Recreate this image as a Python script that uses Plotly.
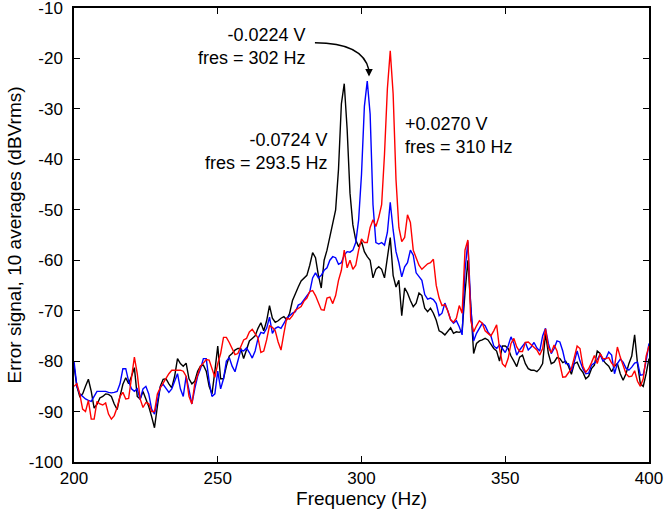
import plotly.graph_objects as go

freq = list(range(200, 401))

black = [
    -81, -85, -87, -86.5, -85, -83.6, -86, -89.3, -88.6, -87.3,
    -87, -86.5, -86.6, -87, -88.5, -89.6, -87, -84.6, -83.3, -84.5,
    -83, -81.3, -87, -87.5, -86, -87.5, -89, -91, -93.2, -89,
    -85, -83.6, -83.5, -84.5, -85.3, -83, -79.5, -80.5, -81, -80.4,
    -83.5, -84.5, -84, -82, -81, -80.8, -82, -85, -86.5, -82,
    -77, -83.5, -83.5, -81, -79, -78.5, -77.8, -77.5, -77.5, -79.5,
    -77.5, -76, -75.5, -75, -73.5, -72.4, -74, -72, -69, -71.5,
    -72.3, -72, -71.5, -71.2, -71.8, -70.5, -68, -66.5, -65.3, -64.1,
    -63.5, -63, -61, -58.5, -59.5, -63, -65.5, -60, -58, -55.5,
    -53, -50, -42, -29, -25, -34, -46.7, -53, -56, -57.3,
    -56.3, -58.3, -59.3, -60, -63.5, -61.8, -61.3, -61.8, -63.5, -59,
    -55.5, -63, -65.3, -64, -71, -65.5, -66.5, -68, -69.2, -68.5,
    -66.5, -67, -69.5, -70.2, -69.5, -70.5, -71.9, -74, -74.3, -74.8,
    -74, -73.4, -74.5, -74.2, -74.3, -74, -66.5, -60, -69, -78.5,
    -76.5, -76, -75.8, -75.5, -75.8, -76.6, -77.5, -78, -80, -77,
    -77, -77.5, -79, -80, -81.1, -79.2, -78.8, -80.5, -81.5, -81.8,
    -81.8, -82.1, -81.5, -80.5, -74.5, -78.5, -80.5, -80.2, -79.3, -79.5,
    -80.3, -80, -81, -82.6, -80.5, -80.2, -81.5, -82.2, -83.5, -83,
    -81.5, -80.8, -78, -78.5, -79.8, -80.5, -81, -82.1, -81, -80.5,
    -82.5, -83.8, -82.5, -80.5, -79, -74.8, -80.5, -84.5, -85, -82.5,
    -79.5,
]

blue = [
    -80, -85, -86.5, -87, -87.5, -87.8, -88, -87, -86, -86,
    -86, -86, -86.2, -86.3, -86.2, -86, -84.5, -81.5, -81.5, -84,
    -85.5, -86, -85.5, -87.6, -85.5, -85, -86.5, -89.5, -90.5, -87.5,
    -85.2, -84.6, -85.3, -86.2, -85.5, -84, -82.5, -85.5, -87, -83,
    -86, -88.5, -85.5, -83, -81.5, -79.5, -79.5, -84, -87, -86.5,
    -82, -85.5, -83.5, -80, -79.3, -81, -82.1, -80, -77.8, -78,
    -77.4, -78.3, -79.4, -78, -75.5, -74.3, -74.5, -73.5, -71.3, -74.5,
    -73.5, -73.2, -73.5, -72.5, -71.5, -71, -70.5, -70.2, -68.9, -68.6,
    -67.8, -66.9, -66.3, -63.5, -62.5, -63.5, -63, -62, -61.5, -60,
    -59.3, -59.5, -60.8, -60.5, -59, -58.3, -58.4, -58, -56.5, -52,
    -43, -29.5, -24.5, -31, -49, -56.5, -56.8, -56.5, -57, -54.5,
    -48.5, -54, -58.3, -60.5, -63.3, -61.3, -60.5, -58, -59, -62.5,
    -63.3, -64, -66.8, -67.7, -67.5, -67.8, -68.6, -71, -70.5, -68.5,
    -70, -71.8, -72.5, -72, -73.2, -74.8, -62, -56.3, -69.2, -76,
    -74.5, -73.5, -72.5, -73, -74.2, -75, -77, -77.5, -76.8, -77.5,
    -78.3, -77, -75.2, -76.5, -78.8, -77.8, -77, -76.3, -77.8, -77.2,
    -76.3, -77.4, -78, -75, -73.5, -76.5, -78.5, -77.5, -76, -76.2,
    -78, -80.5, -80.5, -82, -80.2, -78, -80, -81.5, -82.5, -82.4,
    -80.8, -80.4, -79.7, -78.7, -80, -79.5, -78.2, -78.8, -82.5, -80.5,
    -79.6, -80.2, -81.4, -81.8, -81.2, -80.4, -80.2, -82.8, -82.7, -80,
    -76.5,
]

red = [
    -85, -84.5, -86.5, -89.5, -90, -87.8, -91.5, -91.5, -88, -88.5,
    -88.7, -88.3, -90.5, -91.5, -90.8, -89.2, -87, -86.2, -87.5, -87.4,
    -83.3, -79.2, -82.5, -87.5, -89.2, -88.2, -88.4, -90, -90, -86.5,
    -85.3, -84.3, -83.5, -82.5, -81.8, -81.8, -81.8, -81.8, -82, -83,
    -87, -88.5, -84.5, -82.5, -81, -80.4, -79.7, -79.8, -81.5, -83.2,
    -80.5, -78.5, -75.3, -75.3, -76.3, -77.5, -78.7, -78.5, -77, -75.8,
    -75.5, -74.2, -73.7, -74.7, -75.4, -78.3, -78, -75.8, -73, -73.3,
    -74, -76.2, -77.8, -74.5, -71.5, -71.7, -71, -69.9, -69.5, -69.2,
    -68.1, -67.5, -66.2, -66, -67, -68.6, -69.8, -69.9, -67.5, -67.3,
    -68.6, -67, -64, -62, -58, -61.5, -60, -61.8, -61, -58,
    -55.8, -56.5, -56.5, -53.5, -52, -53.3, -51.5, -49, -39, -26,
    -18.5, -27, -44, -53.5, -56.3, -55.5, -51, -52.5, -58, -59.5,
    -61, -61.8, -61.3, -60.7, -60.5, -59.8, -65, -67.5, -69, -68.8,
    -70, -71.8, -72.3, -71.5, -69, -70.5, -58, -56, -72, -74.2,
    -73, -72, -72.5, -74, -74.5, -75, -74, -72.8, -77.5, -80.5,
    -81.1, -79.5, -76.5, -75.5, -77.2, -78.1, -78.1, -76.3, -76.2, -76.8,
    -77.2, -77.8, -78.8, -77.5, -73.6, -77.3, -78.3, -76.8, -78, -80.8,
    -83.2, -83.1, -82.2, -81.5, -79.3, -77, -77.5, -81, -82.2, -81.5,
    -80.3, -78.9, -80.5, -78.5, -79.5, -79.5, -79.3, -80.4, -81.1, -77.2,
    -79.2, -81, -82.5, -83.1, -83, -81.9, -84, -85, -83.5, -79,
    -77,
]

x_ticks = [200, 250, 300, 350, 400]
y_ticks = list(range(-100, 0, 10))

FONT = "Liberation Sans, Arial, Helvetica, sans-serif"

fig = go.Figure()
fig.add_trace(go.Scatter(x=freq, y=black, mode="lines",
                         line=dict(color="#000000", width=1.4), showlegend=False))
fig.add_trace(go.Scatter(x=freq, y=blue, mode="lines",
                         line=dict(color="#0000ff", width=1.4), showlegend=False))
fig.add_trace(go.Scatter(x=freq, y=red, mode="lines",
                         line=dict(color="#ff0000", width=1.4), showlegend=False))

# curved arrow pointing to the blue peak
fig.add_shape(type="path", xref="x", yref="y",
              path="M 283.8,-16.9 Q 300.5,-16.9 302.6,-22.3",
              line=dict(color="black", width=1.5))
fig.add_annotation(x=302.6, y=-23.6, xref="x", yref="y", text="",
                   showarrow=True, arrowhead=2, arrowsize=1, arrowwidth=1.5,
                   arrowcolor="black", ax=0, ay=-8)

ann_font = dict(family=FONT, size=18, color="black")
fig.add_annotation(x=281.3, y=-17.6, xref="x", yref="y", xanchor="right", yanchor="middle",
                   text="-0.0224 V<br>fres = 302 Hz", showarrow=False, align="right",
                   font=ann_font)
fig.add_annotation(x=289.0, y=-38.4, xref="x", yref="y", xanchor="right", yanchor="middle",
                   text="-0.0724 V<br>fres = 293.5 Hz", showarrow=False, align="right",
                   font=ann_font)
fig.add_annotation(x=314.5, y=-35.2, xref="x", yref="y", xanchor="left", yanchor="middle",
                   text="+0.0270 V<br>fres = 310 Hz", showarrow=False, align="left",
                   font=ann_font)

axis_common = dict(showgrid=False, zeroline=False, showline=True, linecolor="black",
                   linewidth=1.5, mirror="ticks", ticks="inside", ticklen=6,
                   tickwidth=1, tickcolor="black", automargin=False,
                   ticklabeloverflow="allow",
                   tickfont=dict(family=FONT, size=17, color="black"))

fig.update_xaxes(range=[200, 400], tickvals=x_ticks, ticktext=[str(v) for v in x_ticks],
                 title=dict(text="Frequency (Hz)", font=dict(family=FONT, size=19, color="black"),
                            standoff=0),
                 **axis_common)
fig.update_yaxes(range=[-100, -10], tickvals=y_ticks, ticktext=[str(v) for v in y_ticks],
                 ticklabelstandoff=6,
                 title=dict(text="Error signal, 10 averages (dBVrms)",
                            font=dict(family=FONT, size=19, color="black"), standoff=2),
                 **axis_common)

fig.update_layout(width=665, height=512, margin=dict(l=74, r=16, t=8, b=50),
                  paper_bgcolor="white", plot_bgcolor="white",
                  font=dict(family=FONT, color="black"))

fig.write_html("out.html", config={"displayModeBar": False},
               post_script="document.body.style.margin='0';")
